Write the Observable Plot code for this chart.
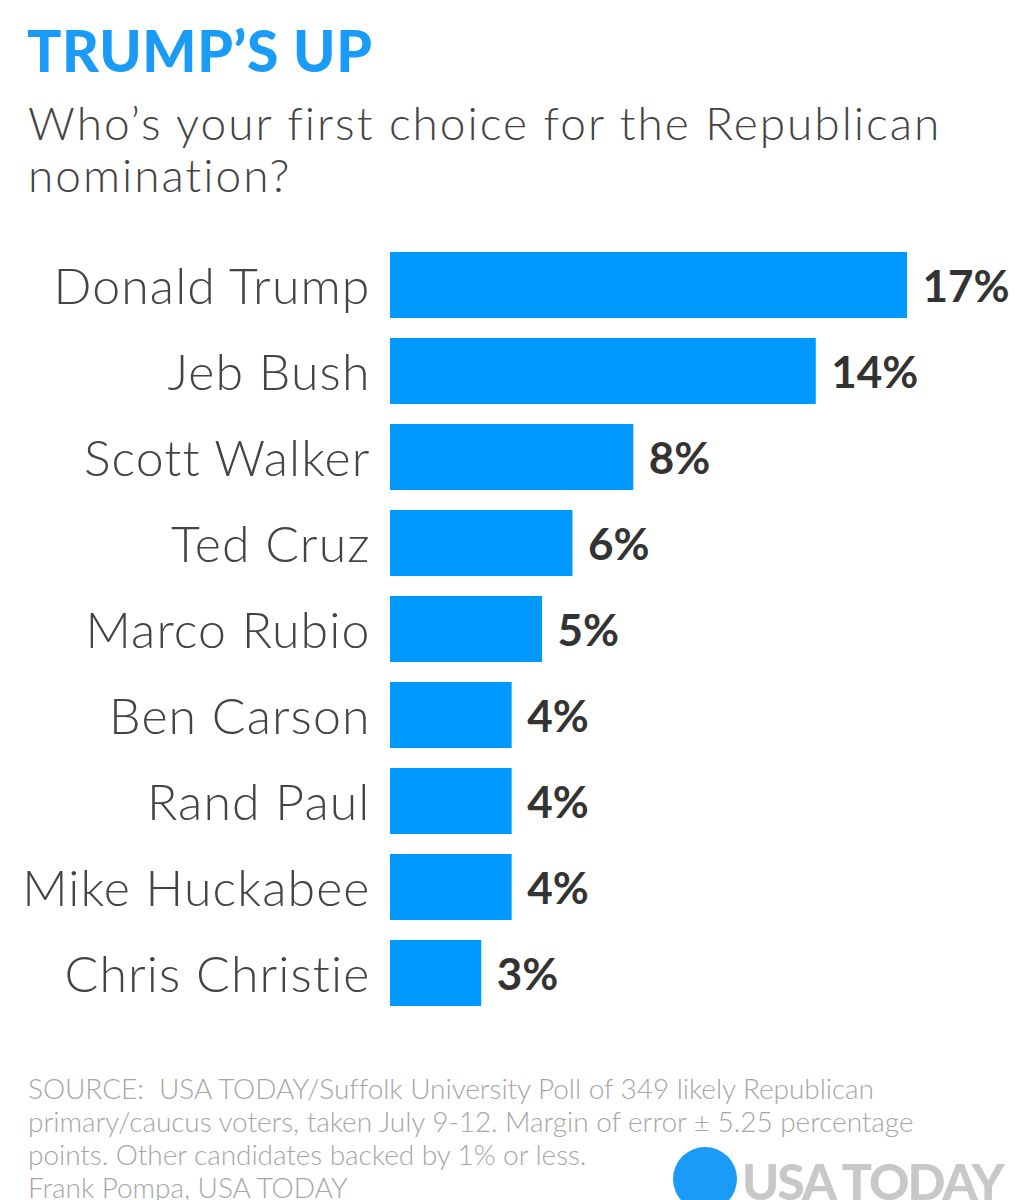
<!DOCTYPE html>
<html>
<head>
<meta charset="utf-8">
<script src="https://cdn.jsdelivr.net/npm/d3@7"></script>
<script src="https://cdn.jsdelivr.net/npm/@observablehq/plot@0.6"></script>
<style>
  html, body { margin: 0; padding: 0; background: #fff; }
  #page { position: relative; width: 1032px; height: 1200px; overflow: hidden; font-family: Lato, "Open Sans", sans-serif; }
  #title { position: absolute; left: 27px; top: 22px; font-size: 57px; font-weight: 900; color: #1a9bf7; letter-spacing: 0.6px; margin: 0; line-height: 1; }
  #subtitle { position: absolute; left: 28px; top: 97px; font-size: 46px; font-weight: 300; color: #444; line-height: 52px; margin: 0; width: 1010px; letter-spacing: 2px; }
  #chart { position: absolute; left: 0; top: 218px; }
  #source { position: absolute; left: 28px; top: 1072px; font-size: 28px; font-weight: 300; color: #a6a6a6; line-height: 33px; width: 990px; letter-spacing: -0.05px; }
  #logo { position: absolute; left: 673px; top: 1147px; height: 60px; }
  #logo .dot { position: absolute; left: 0; top: 0; width: 64px; height: 64px; border-radius: 50%; background: #1a9bf7; }
  #logo .name { position: absolute; left: 69px; top: 9px; font-size: 50px; font-weight: 900; color: #c8c8c8; letter-spacing: -2px; line-height: 1; white-space: nowrap; }
</style>
</head>
<body>
<div id="page">
  <div id="title">TRUMP’S UP</div>
  <div id="subtitle">Who’s your first choice for the Republican<br>nomination?</div>
  <div id="chart"></div>
  <div id="source">SOURCE:&nbsp; USA TODAY/Suffolk University Poll of 349 likely Republican<br>primary/caucus voters, taken July 9-12. Margin of error ± 5.25 percentage<br>points. Other candidates backed by 1% or less.<br>Frank Pompa, USA TODAY</div>
  <div id="logo"><div class="dot"></div><div class="name">USA TODAY</div></div>
</div>
<script>
const candidates = ["Donald Trump", "Jeb Bush", "Scott Walker", "Ted Cruz", "Marco Rubio", "Ben Carson", "Rand Paul", "Mike Huckabee", "Chris Christie"];
const percents = [17, 14, 8, 6, 5, 4, 4, 4, 3];

const data = candidates.map((name, i) => ({name, value: percents[i]}));

const chart = Plot.plot({
  width: 1032,
  height: 823,
  marginLeft: 390,
  marginRight: 125,
  marginTop: 10,
  marginBottom: 10,
  style: {fontFamily: "Lato, 'Open Sans', sans-serif", background: "transparent"},
  x: {domain: [0, 17], axis: null},
  y: {domain: candidates, padding: 0.23, axis: null},
  marks: [
    Plot.barX(data, {x: "value", y: "name", fill: "#0099ff"}),
    Plot.text(data, {x: () => 0, y: "name", text: "name", textAnchor: "end", dx: -20, dy: 2, fontSize: 50, fontWeight: 300, fill: "#444"}),
    Plot.text(data, {x: "value", y: "name", text: d => d.value + "%", textAnchor: "start", dx: 15, dy: 2, fontSize: 44, fontWeight: 700, fill: "#333"})
  ]
});
d3.select(chart).selectAll('g[aria-label="text"]').filter((d, i) => i === 0).attr("letter-spacing", "1.1");
document.getElementById("chart").appendChild(chart);
</script>
</body>
</html>
